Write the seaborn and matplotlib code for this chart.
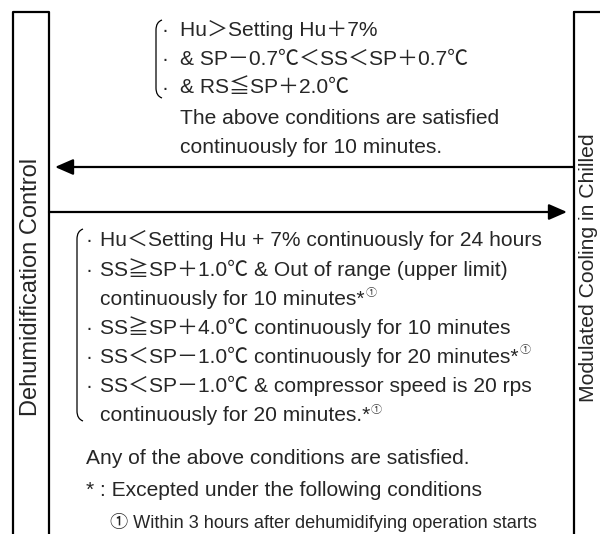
import matplotlib
matplotlib.use('Agg')
import matplotlib.pyplot as plt
import seaborn as sns
from matplotlib.path import Path
from matplotlib.patches import PathPatch

# state names
left_state = 'Dehumidification Control'
right_state = 'Modulated Cooling in Chilled'

# conditions: chilled -> dehumidification
enter_bullets = ['Hu＞Setting Hu＋7%', '& SP－0.7℃＜SS＜SP＋0.7℃', '& RS≦SP＋2.0℃']
enter_note = ['The above conditions are satisfied', 'continuously for 10 minutes.']

# conditions: dehumidification -> chilled
exit_text = ['Hu＜Setting Hu + 7% continuously for 24 hours',
             'SS≧SP＋1.0℃ & Out of range (upper limit)',
             'continuously for 10 minutes*',
             'SS≧SP＋4.0℃ continuously for 10 minutes',
             'SS＜SP－1.0℃ continuously for 20 minutes*',
             'SS＜SP－1.0℃ & compressor speed is 20 rps',
             'continuously for 20 minutes.*']
exit_bullet = [True, True, False, True, True, True, False]
exit_mark = [False, False, True, False, True, False, True]
exit_note = 'Any of the above conditions are satisfied.'
footnote = '* : Excepted under the following conditions'
footnote_items = ['① Within 3 hours after dehumidifying operation starts']

sns.set_theme(style='white')
plt.rcParams['font.family'] = ['Liberation Sans', 'Noto Sans CJK JP', 'DejaVu Sans']

W, H = 600, 534
fig = plt.figure(figsize=(6, 5.34), dpi=100)
ax = fig.add_axes([0, 0, 1, 1])
ax.set_xlim(0, W)
ax.set_ylim(H, 0)
ax.axis('off')

lw_box = 1.6
# left box (state: dehumidification)
ax.plot([13, 13, 49, 49], [H + 5, 12, 12, H + 5], color='black', lw=lw_box)
# right box (state: chilled)
ax.plot([574, 574], [H + 5, 12], color='black', lw=lw_box)
ax.plot([574, W + 5], [12, 12], color='black', lw=lw_box)

ax.text(37, 286.5, left_state, rotation=90, rotation_mode='anchor',
        ha='center', va='baseline', fontsize=17)
ax.text(594, 268, right_state, rotation=90, rotation_mode='anchor',
        ha='center', va='baseline', fontsize=15.2)

# transition arrows
arrow = dict(arrowstyle='-|>,head_length=0.55,head_width=0.24', color='black',
             lw=1.6, shrinkA=0, shrinkB=0, mutation_scale=20)
ax.annotate('', xy=(55, 167), xytext=(574, 167), arrowprops=arrow)
ax.annotate('', xy=(567, 212), xytext=(49, 212), arrowprops=arrow)


def bracket(x, y0, y1, d=6):
    verts = [(x + d, y0), (x, y0 + 2), (x, y0 + 10), (x, y1 - 10), (x, y1 - 2), (x + d, y1)]
    codes = [Path.MOVETO, Path.CURVE3, Path.CURVE3, Path.LINETO, Path.CURVE3, Path.CURVE3]
    ax.add_patch(PathPatch(Path(verts, codes), fill=False, lw=0.9, color='black'))


fs = 15.1
# upper block
bracket(156, 20, 98)
for i, s in enumerate(enter_bullets):
    y = 36.5 + i * 28.5
    ax.text(161, y, '·', fontsize=fs, va='baseline')
    ax.text(180, y, s, fontsize=fs, va='baseline')
for i, s in enumerate(enter_note):
    ax.text(180, 124 + i * 28.7, s, fontsize=fs, va='baseline')

# lower block
bracket(77, 229, 421)
for i, s in enumerate(exit_text):
    y = 246.5 + i * 29.1
    if exit_bullet[i]:
        ax.text(86, y, '·', fontsize=fs, va='baseline')
    t = ax.text(100, y, s, fontsize=fs, va='baseline')
    if exit_mark[i]:
        ax.annotate('①', xy=(1, 1), xycoords=t, xytext=(0.5, 1), textcoords='offset points',
                    ha='left', va='top', fontsize=8, color='#444444')

ax.text(86, 464.5, exit_note, fontsize=fs, va='baseline')
ax.text(86, 496.5, footnote, fontsize=fs, va='baseline')
for i, s in enumerate(footnote_items):
    ax.text(110, 528.5 + i * 28, s, fontsize=13.1, va='baseline')

fig.savefig('out.png', dpi=100)
